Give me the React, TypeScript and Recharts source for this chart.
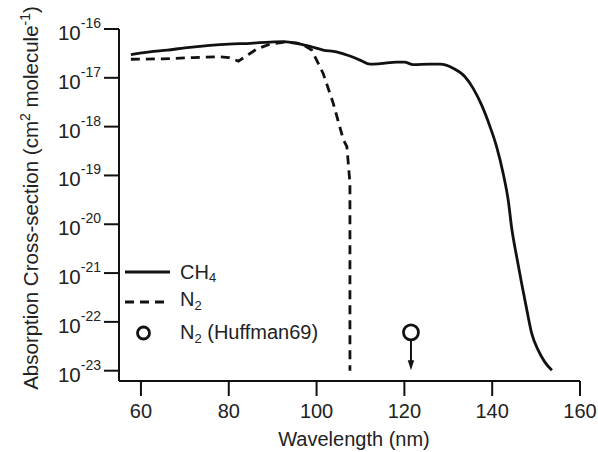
import React from "react";
import { ComposedChart, Line, Scatter, XAxis, YAxis } from "recharts";

// ---- data ----
const CH4_WAVELENGTH = [57.7, 62, 66, 70, 75.7, 80, 85, 89.4, 92.5, 95.5, 98.5, 101.5, 104.5, 107.6, 109.9, 112.2, 114.5, 118.3, 120, 122, 125.8, 128.1, 131.2, 133.8, 135.7, 137.6, 139.5, 141.0, 142.5, 143.7, 144.4, 145.6, 146.7, 147.9, 149.0, 150.5, 152.0, 153.6];
const CH4_CROSS_SECTION = [3.0e-17, 3.4e-17, 3.7e-17, 4.1e-17, 4.6e-17, 4.9e-17, 5.1e-17, 5.4e-17, 5.5e-17, 5.1e-17, 4.4e-17, 3.7e-17, 3.4e-17, 2.8e-17, 2.3e-17, 1.9e-17, 1.95e-17, 2.1e-17, 2.1e-17, 1.86e-17, 1.9e-17, 1.9e-17, 1.55e-17, 1.05e-17, 6.0e-18, 2.75e-18, 1.0e-18, 3.9e-19, 1.1e-19, 2.9e-20, 8.9e-21, 2.1e-21, 6.2e-22, 1.74e-22, 5.8e-23, 2.6e-23, 1.5e-23, 1.02e-23];

const N2_WAVELENGTH = [57.7, 65, 72, 78, 80, 82.2, 84.5, 86.4, 89.4, 93, 96.5, 98.9, 101.5, 103.8, 106.1, 106.9, 107.6, 107.6];
const N2_CROSS_SECTION = [2.4e-17, 2.45e-17, 2.6e-17, 2.7e-17, 2.6e-17, 2.2e-17, 3.0e-17, 3.9e-17, 4.9e-17, 5.4e-17, 5.0e-17, 3.7e-17, 1.23e-17, 3.0e-18, 5.4e-19, 3.9e-19, 6.9e-20, 1.0e-23];

const HUFFMAN_WAVELENGTH = [121.5];
const HUFFMAN_CROSS_SECTION = [6.1e-23];

const X_TICKS = [60, 80, 100, 120, 140, 160];
const Y_EXPONENTS = [-16, -17, -18, -19, -20, -21, -22, -23];
const Y_TICKS = Y_EXPONENTS.map((e) => Math.pow(10, e));

const ch4Data = CH4_WAVELENGTH.map((x, i) => ({ x, y: CH4_CROSS_SECTION[i] }));
const n2Data = N2_WAVELENGTH.map((x, i) => ({ x, y: N2_CROSS_SECTION[i] }));
const huffmanData = HUFFMAN_WAVELENGTH.map((x, i) => ({ x, y: HUFFMAN_CROSS_SECTION[i] }));

const FONT = "'Liberation Sans', Arial, Helvetica, sans-serif";
const INK = "#111";
const TEXT = "#222";

const YTick = (props: any) => {
  const { x, y, payload } = props;
  const exp = Math.round(Math.log10(payload.value));
  return (
    <text x={x - 3} y={y + 11} textAnchor="end" fontFamily={FONT} fill={TEXT}>
      <tspan fontSize={20.5}>10</tspan>
      <tspan fontSize={14} dy={-12}>{String(exp)}</tspan>
    </text>
  );
};

const HuffmanShape = (props: any) => {
  const { cx, cy } = props;
  if (cx == null || cy == null) return null;
  return (
    <g>
      <line x1={cx} y1={cy + 8} x2={cx} y2={cy + 29} stroke={INK} strokeWidth={2} />
      <polygon points={`${cx - 3.2},${cy + 28} ${cx + 3.2},${cy + 28} ${cx},${cy + 38}`} fill={INK} />
      <circle cx={cx} cy={cy} r={7.5} fill="#fff" stroke={INK} strokeWidth={2.8} />
    </g>
  );
};

export default function App() {
  return (
    <div style={{ position: "absolute", left: 0, top: 0, width: 598, height: 452, background: "#fff" }}>
      <ComposedChart width={598} height={452} margin={{ top: 29, right: 18, left: 0, bottom: 0 }}>
        <XAxis
          type="number"
          dataKey="x"
          domain={[55, 160]}
          ticks={X_TICKS}
          allowDataOverflow
          height={71}
          tickSize={15}
          tickMargin={8}
          axisLine={{ stroke: INK, strokeWidth: 2 }}
          tickLine={{ stroke: INK, strokeWidth: 2 }}
          tick={{ fontSize: 20, fill: TEXT, fontFamily: FONT }}
        />
        <YAxis
          type="number"
          dataKey="y"
          scale="log"
          domain={[6.15e-24, 1e-16]}
          ticks={Y_TICKS}
          allowDataOverflow
          width={119}
          tickSize={15}
          tickMargin={0}
          axisLine={{ stroke: INK, strokeWidth: 2 }}
          tickLine={{ stroke: INK, strokeWidth: 2 }}
          tick={<YTick />}
          interval={0}
        />
        <Line
          data={ch4Data}
          dataKey="y"
          type="monotone"
          stroke={INK}
          strokeWidth={2.8}
          dot={false}
          isAnimationActive={false}
        />
        <Line
          data={n2Data}
          dataKey="y"
          type="linear"
          stroke={INK}
          strokeWidth={2.8}
          strokeDasharray="9 6"
          dot={false}
          isAnimationActive={false}
        />
        <Scatter data={huffmanData} dataKey="y" shape={<HuffmanShape />} isAnimationActive={false} />
      </ComposedChart>
      <svg
        width={598}
        height={452}
        style={{ position: "absolute", left: 0, top: 0, pointerEvents: "none" }}
        fontFamily={FONT}
      >
        {/* y-axis label */}
        <text transform="rotate(-90)" x={-198} y={38} textAnchor="middle" fontSize={20.5} fill={TEXT}>
          Absorption Cross-section (cm
          <tspan fontSize={14} dy={-8}>2</tspan>
          <tspan dy={8}> molecule</tspan>
          <tspan fontSize={14} dy={-8}>-1</tspan>
          <tspan dy={8}>)</tspan>
        </text>
        {/* x-axis label */}
        <text x={354} y={446} textAnchor="middle" fontSize={20} fill={TEXT}>
          Wavelength (nm)
        </text>
        {/* legend */}
        <line x1={125} y1={272} x2={170} y2={272} stroke={INK} strokeWidth={2.8} />
        <text x={180} y={279} fontSize={20} fill={TEXT}>
          CH<tspan fontSize={13} dy={3}>4</tspan>
        </text>
        <line x1={125} y1={302} x2={166} y2={302} stroke={INK} strokeWidth={2.8} strokeDasharray="9 6" />
        <text x={180} y={306} fontSize={20} fill={TEXT}>
          N<tspan fontSize={13} dy={4}>2</tspan>
        </text>
        <circle cx={143.5} cy={333} r={6} fill="#fff" stroke={INK} strokeWidth={2.8} />
        <text x={180} y={339} fontSize={20} fill={TEXT}>
          N<tspan fontSize={13} dy={4}>2</tspan>
          <tspan dy={-4}> (Huffman69)</tspan>
        </text>
      </svg>
    </div>
  );
}
